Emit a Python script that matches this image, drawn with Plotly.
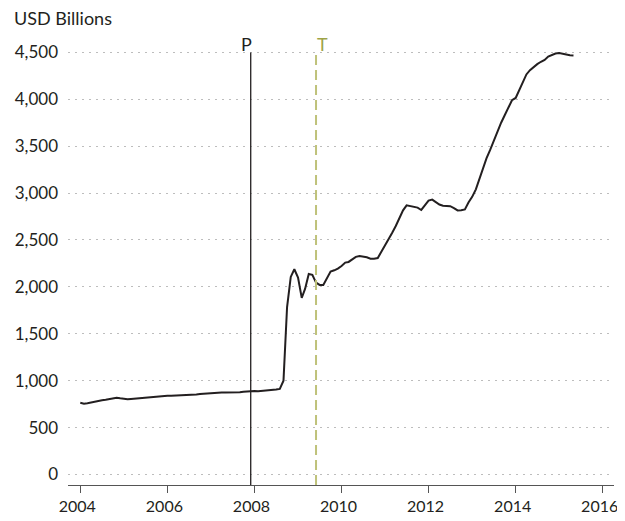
import plotly.graph_objects as go

# ---- data (monthly, USD billions) ----
years = list(range(2004, 2016))
values_by_year = {
    2004: [765, 755, 760, 770, 778, 785, 792, 797, 803, 810, 818, 812],
    2005: [805, 803, 806, 810, 812, 814, 816, 820, 824, 828, 833, 838],
    2006: [839, 840, 841, 843, 845, 846, 848, 850, 853, 858, 862, 865],
    2007: [867, 870, 872, 874, 875, 875, 873, 872, 876, 882, 887, 889],
    2008: [889, 888, 890, 892, 895, 900, 905, 912, 1000, 1785, 2106, 2188],
    2009: [2100, 1883, 1978, 2138, 2128, 2046, 2021, 2021, 2100, 2163, 2177, 2195],
    2010: [2223, 2259, 2266, 2290, 2320, 2330, 2325, 2315, 2301, 2300, 2308, 2375],
    2011: [2440, 2500, 2575, 2649, 2730, 2816, 2869, 2862, 2855, 2845, 2820, 2870],
    2012: [2920, 2930, 2900, 2878, 2865, 2862, 2860, 2840, 2815, 2818, 2826, 2900],
    2013: [2960, 3040, 3150, 3260, 3370, 3460, 3560, 3660, 3750, 3830, 3920, 3990],
    2014: [4014, 4105, 4190, 4265, 4310, 4345, 4375, 4400, 4420, 4455, 4476, 4488],
    2015: [4493, 4484, 4477, 4470, 4468],
}
dates = []
values = []
for y in years:
    for m, v in enumerate(values_by_year[y], start=1):
        dates.append(f"{y}-{m:02d}-01")
        values.append(v)

event_labels = ["P", "T"]
event_dates = ["2007-12-01", "2009-06-01"]
event_top = 4500

y_ticks = [0, 500, 1000, 1500, 2000, 2500, 3000, 3500, 4000, 4500]
y_ticktext = [f"{v:,}" for v in y_ticks]
x_tick_years = [2004, 2006, 2008, 2010, 2012, 2014, 2016]

FONT = "Lato, Open Sans, sans-serif"
Y_MIN = -112

fig = go.Figure()
fig.add_trace(go.Scatter(
    x=dates, y=values, mode="lines",
    line=dict(color="#231f20", width=2),
    hoverinfo="skip", showlegend=False,
))

# P line
fig.add_shape(type="line", xref="x", yref="y",
              x0=event_dates[0], x1=event_dates[0], y0=Y_MIN, y1=event_top,
              line=dict(color="#231f20", width=1.3), layer="above")
# T line
fig.add_shape(type="line", xref="x", yref="y",
              x0=event_dates[1], x1=event_dates[1], y0=Y_MIN, y1=event_top,
              line=dict(color="#bfc27a", width=2, dash="10px,5px"), layer="above")

fig.add_annotation(x=event_dates[0], y=event_top, xref="x", yref="y",
                   text=event_labels[0], showarrow=False, yanchor="bottom",
                   xshift=-4, yshift=-5,
                   font=dict(family=FONT, size=18, color="#231f20"))
fig.add_annotation(x=event_dates[1], y=event_top, xref="x", yref="y",
                   text=event_labels[1], showarrow=False, yanchor="bottom",
                   xshift=6, yshift=-5,
                   font=dict(family=FONT, size=18, color="#9ea347"))

fig.add_annotation(x=0, y=1, xref="paper", yref="paper",
                   text="USD Billions", showarrow=False,
                   xanchor="left", yanchor="middle",
                   xshift=-56, yshift=25,
                   font=dict(family=FONT, size=18, color="#231f20"))

# page body has an 8px margin; the figure is offset by it
fig.update_layout(
    width=617, height=513,
    margin=dict(l=60, r=11, t=35, b=36),
    paper_bgcolor="white", plot_bgcolor="white",
    font=dict(family=FONT, size=17, color="#231f20"),
    showlegend=False,
)
fig.update_xaxes(
    type="date", automargin=False, ticklabeloverflow="allow",
    ticklabelshift=-3,
    range=["2003-09-20", "2016-04-05"],
    tickvals=[f"{y}-01-01" for y in x_tick_years],
    ticktext=[str(y) for y in x_tick_years],
    ticks="outside", ticklen=7, tickcolor="#555555", tickwidth=1,
    showline=True, linecolor="#555555", linewidth=1,
    showgrid=False, zeroline=False,
    tickfont=dict(family=FONT, size=16, color="#231f20"),
)
fig.update_yaxes(
    automargin=False,
    range=[Y_MIN, 4600],
    tickvals=y_ticks, ticktext=y_ticktext,
    showgrid=True, gridcolor="#bdbdbd", griddash="2px,5px", gridwidth=1,
    zeroline=False, showline=False, ticks="", ticklabelstandoff=9,
    tickfont=dict(family=FONT, size=17, color="#231f20"),
)

fig.write_html("out.html")
